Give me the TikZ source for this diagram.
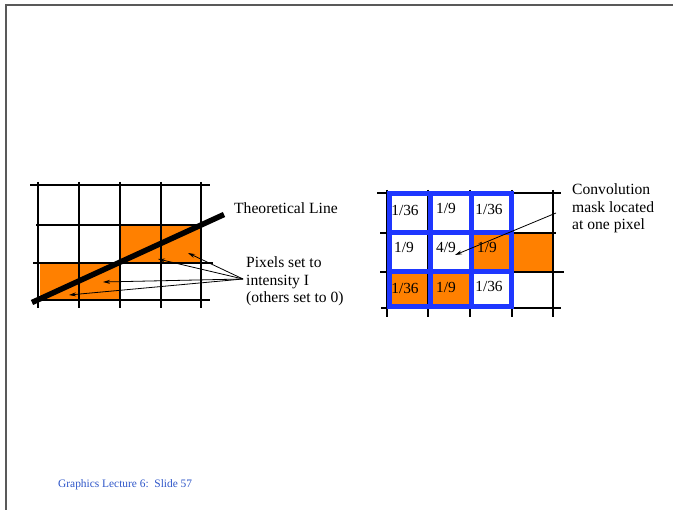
\documentclass[tikz,border=0pt]{standalone}
\usepackage{fontspec}
\setmainfont{Liberation Serif}
\usetikzlibrary{arrows.meta}
\definecolor{pxorange}{RGB}{255,128,0}
\definecolor{maskblue}{RGB}{30,55,255}
\definecolor{footblue}{RGB}{45,85,200}
\tikzset{
  grid/.style={line width=2.8pt, black},
  maskline/.style={line width=5pt, maskblue},
  pix/.style={fill=pxorange, draw=none},
  lbl/.style={font=\fontsize{15.6}{17.5}\selectfont, inner sep=0pt},
  cell/.style={font=\fontsize{15.4}{17}\selectfont, inner sep=0pt},
  ptr/.style={line width=0.8pt, -{Stealth[length=7pt,width=4pt]}},
}
\begin{document}
\begin{tikzpicture}[x=1pt,y=-1pt]
\useasboundingbox (0,0) rectangle (673,510);
% slide border
\draw[line width=1.5pt, gray!70!black] (6,510) -- (6,5) -- (673,5);

% ---------- left picture ----------
\fill[pix] (40,264) rectangle (120,300);
\fill[pix] (120,225) rectangle (201,263);
\foreach \x in {38,79,120,161,201} \draw[grid] (\x,182) -- (\x,308);
\draw[grid] (30,185) -- (210,185);
\draw[grid] (36,225) -- (203,225);
\draw[grid] (33,263) -- (213,263);
\draw[grid] (36,300) -- (210,300);
\draw[line width=5.5pt] (32,302.5) -- (224,214.5);

\node[lbl, anchor=west] (theo) at (234,208) {Theoretical Line};
\node[lbl, anchor=north west, align=left] (pix) at (246,256.5)
  {Pixels set to\\intensity I\\(others set to 0)};
\coordinate (src) at (243,279);
\coordinate (t1) at (188,253);
\coordinate (t2) at (158,259);
\coordinate (t3) at (103,282);
\coordinate (t4) at (69,295);
\foreach \t in {t1,t2,t3,t4} \draw[ptr] (src) -- (\t);

% ---------- right picture ----------
\fill[pix] (470,233) rectangle (512,272);
\fill[pix] (512,233) rectangle (553,272);
\fill[pix] (387,272) rectangle (470,308);
\foreach \x in {387,428,470,512,553} \draw[grid] (\x,190) -- (\x,317);
\draw[grid] (377,193) -- (561,193);
\draw[grid] (380,233) -- (556,233);
\draw[grid] (380,272) -- (564,272);
\draw[grid] (381,308) -- (561,308);
% mask
\foreach \x in {389,430,471,511} \draw[maskline] (\x,191.5) -- (\x,309.5);
\foreach \y in {194,233,272,307} \draw[maskline] (386.5,\y) -- (513.5,\y);

\node[cell] (c00) at (405,210) {1/36};
\node[cell] (c01) at (446,208) {1/9};
\node[cell] (c02) at (489,209) {1/36};
\node[cell] (c10) at (404,247) {1/9};
\node[cell] (c11) at (446,247) {4/9};
\node[cell] (c12) at (487,247) {1/9};
\node[cell] (c20) at (405,288) {1/36};
\node[cell] (c21) at (446,287) {1/9};
\node[cell] (c22) at (489,286) {1/36};

\node[lbl, anchor=north west, align=left] (conv) at (572,183.5)
  {Convolution\\mask located\\at one pixel};
\coordinate (cs) at (556,213);
\coordinate (ct) at (455,255);
\draw[ptr] (cs) -- (ct);

% footer
\node[font=\fontsize{11.4}{13}\selectfont, text=footblue, anchor=west, inner sep=0pt] (foot) at (58,485)
  {Graphics Lecture 6:\ \ Slide 57};
\end{tikzpicture}
\end{document}
